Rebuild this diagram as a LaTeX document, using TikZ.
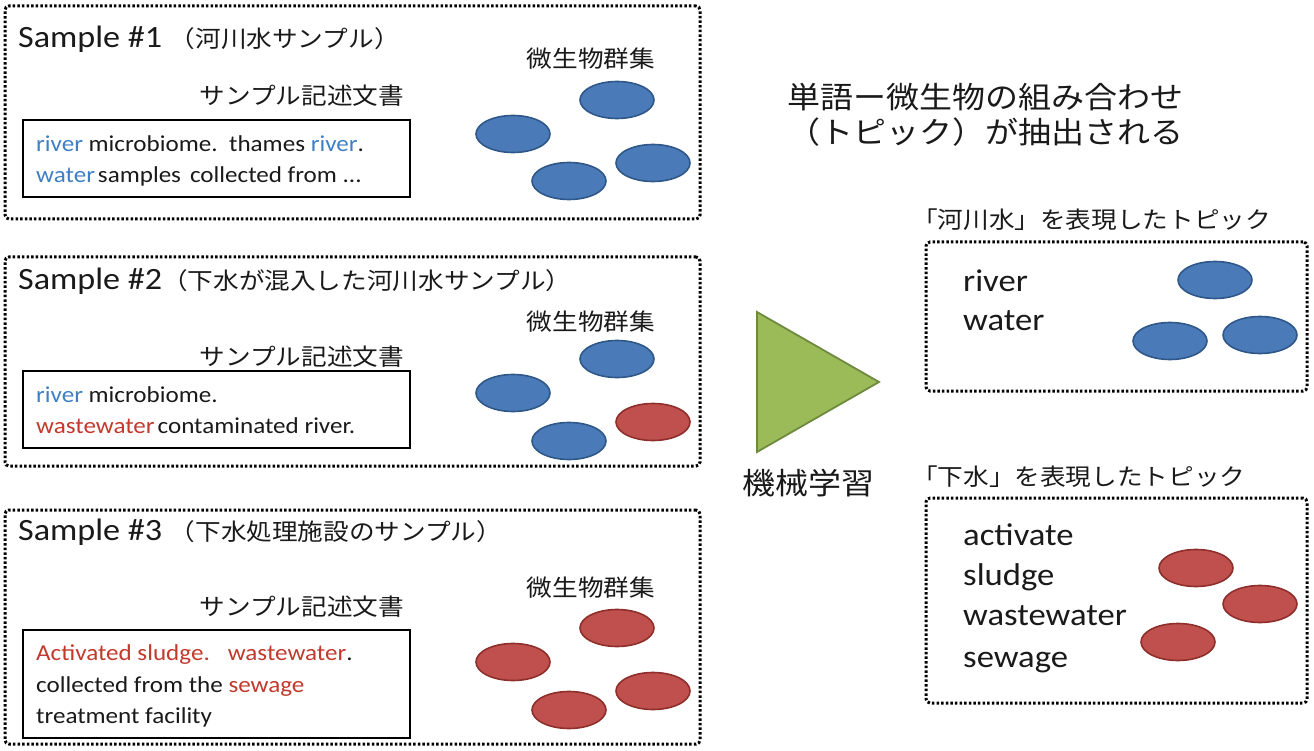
\documentclass[tikz,border=0pt]{standalone}
\usepackage{fontspec}
\setmainfont{Carlito}[FakeStretch=1.1]
\newfontfamily\jp{Noto Sans CJK JP}[FakeStretch=1.1]
\usetikzlibrary{shapes.geometric}
\definecolor{txt}{HTML}{1A1A1A}
\definecolor{wblue}{HTML}{3F7FC4}
\definecolor{wred}{HTML}{C23A2E}
\definecolor{mblue}{HTML}{4A7AB7}
\definecolor{mblueedge}{HTML}{2F5889}
\definecolor{mred}{HTML}{C0504D}
\definecolor{mrededge}{HTML}{8E2F2C}
\definecolor{trifill}{HTML}{9BBB59}
\definecolor{triedge}{HTML}{6E8B3D}
\begin{document}
\begin{tikzpicture}[x=1pt,y=-1pt,
  dotbox/.style={draw=black, line width=3pt, dash pattern=on 2.5pt off 2.1pt, rounded corners=4pt, inner sep=0pt, outer sep=0pt, anchor=north west},
  solidbox/.style={draw=black, line width=2.5pt, inner sep=0pt, outer sep=0pt, anchor=north west},
  microbe/.style={ellipse, minimum width=74pt, minimum height=37pt, inner sep=0pt, line width=1.6pt},
  blueM/.style={microbe, fill=mblue, draw=mblueedge},
  redM/.style={microbe, fill=mred, draw=mrededge},
  head/.style={anchor=base west, inner sep=0pt, text=txt, font=\fontsize{31}{36}\selectfont},
  jpl/.style={inner sep=0pt, text=txt, font=\jp\fontsize{23.3}{28}\selectfont},
  jptitle/.style={inner sep=0pt, text=txt, font=\jp\fontsize{30}{36}\selectfont},
  body/.style={anchor=base west, inner sep=0pt, text=txt, font=\fontsize{22.8}{26}\selectfont},
  topicw/.style={anchor=base west, inner sep=0pt, text=txt, font=\fontsize{31.5}{36}\selectfont}]
\useasboundingbox (0,0) rectangle (1314,751);
\fill[white] (0,0) rectangle (1314,751);

% ---------- Sample #1 ----------
\node[dotbox, minimum width=695pt, minimum height=213pt] (s1) at (5,6) {};
\node[head] (s1h) at (18,48) {Sample \#1 {\jp\fontsize{23.3}{28}\selectfont （河川水サンプル）}};
\node[jpl] (s1c) at (591,59) {微生物群集};
\node[jpl] (s1d) at (302,96) {サンプル記述文書};
\node[solidbox, minimum width=387pt, minimum height=77pt] (s1b) at (23,120) {};
\node[body] (s1l1) at (36,152) {\textcolor{wblue}{river} microbiome.\hspace{4pt} thames \textcolor{wblue}{river}.};
\node[body] (s1l2) at (36,183) {\textcolor{wblue}{water}\hspace{3pt}samples\hspace{9pt}collected from ...};
\node[blueM] (s1m1) at (617,100) {};
\node[blueM] (s1m2) at (513,134) {};
\node[blueM] (s1m3) at (569,181) {};
\node[blueM] (s1m4) at (653,163) {};

% ---------- Sample #2 ----------
\node[dotbox, minimum width=695pt, minimum height=209pt] (s2) at (5,257) {};
\node[head] (s2h) at (18,290) {Sample \#2{\jp\fontsize{23.3}{28}\selectfont （下水が混入した河川水サンプル）}};
\node[jpl] (s2c) at (591,322) {微生物群集};
\node[jpl] (s2d) at (302,357) {サンプル記述文書};
\node[solidbox, minimum width=387pt, minimum height=77pt] (s2b) at (23,371) {};
\node[body] (s2l1) at (36,402) {\textcolor{wblue}{river} microbiome.};
\node[body] (s2l2) at (36,433) {\textcolor{wred}{wastewater}\hspace{3pt}contaminated river.};
\node[blueM] (s2m1) at (617,359) {};
\node[blueM] (s2m2) at (513,393) {};
\node[blueM] (s2m3) at (569,441) {};
\node[redM] (s2m4) at (653,422) {};

% ---------- Sample #3 ----------
\node[dotbox, minimum width=695pt, minimum height=234pt] (s3) at (5,510) {};
\node[head] (s3h) at (18,540) {Sample \#3 {\jp\fontsize{23.3}{28}\selectfont （下水処理施設のサンプル）}};
\node[jpl] (s3c) at (591,588) {微生物群集};
\node[jpl] (s3d) at (302,607) {サンプル記述文書};
\node[solidbox, minimum width=387pt, minimum height=108pt] (s3b) at (23,630) {};
\node[body] (s3l1) at (36,660) {\textcolor{wred}{Activated sludge.}\hspace{18pt}\textcolor{wred}{wastewater}.};
\node[body] (s3l2) at (36,692) {collected from the \textcolor{wred}{sewage}};
\node[body] (s3l3) at (36,723) {treatment facility};
\node[redM] (s3m1) at (617,628) {};
\node[redM] (s3m2) at (513,662) {};
\node[redM] (s3m3) at (569,710) {};
\node[redM] (s3m4) at (653,691) {};

% ---------- Machine learning arrow ----------
\coordinate (triA) at (757,312);
\coordinate (triB) at (757,452);
\coordinate (triC) at (879,382);
\draw[fill=trifill, draw=triedge, line width=1.8pt, line join=miter] (triA) -- (triC) -- (triB) -- cycle;
\node[jptitle] (ml) at (808,483) {機械学習};

% ---------- Title ----------
\node[jptitle] (tt1) at (985,97) {単語ー微生物の組み合わせ};
\node[jptitle] (tt2) at (985,132) {（トピック）が抽出される};

% ---------- Topic: river water ----------
\node[jpl, anchor=west] (t1h) at (912,220) {「河川水」を表現したトピック};
\node[dotbox, minimum width=381pt, minimum height=149pt] (t1) at (926,242) {};
\node[topicw] (t1w1) at (963,291) {river};
\node[topicw] (t1w2) at (963,330) {water};
\node[blueM] (t1m1) at (1215,280) {};
\node[blueM] (t1m2) at (1170,341) {};
\node[blueM] (t1m3) at (1260,335) {};

% ---------- Topic: sewage ----------
\node[jpl, anchor=west] (t2h) at (912,477) {「下水」を表現したトピック};
\node[dotbox, minimum width=381pt, minimum height=205pt] (t2) at (926,498) {};
\node[topicw] (t2w1) at (963,545) {activate};
\node[topicw] (t2w2) at (963,585) {sludge};
\node[topicw] (t2w3) at (963,625) {wastewater};
\node[topicw] (t2w4) at (963,667) {sewage};
\node[redM] (t2m1) at (1196,568) {};
\node[redM] (t2m2) at (1260,604) {};
\node[redM] (t2m3) at (1178,642) {};
\end{tikzpicture}
\end{document}
